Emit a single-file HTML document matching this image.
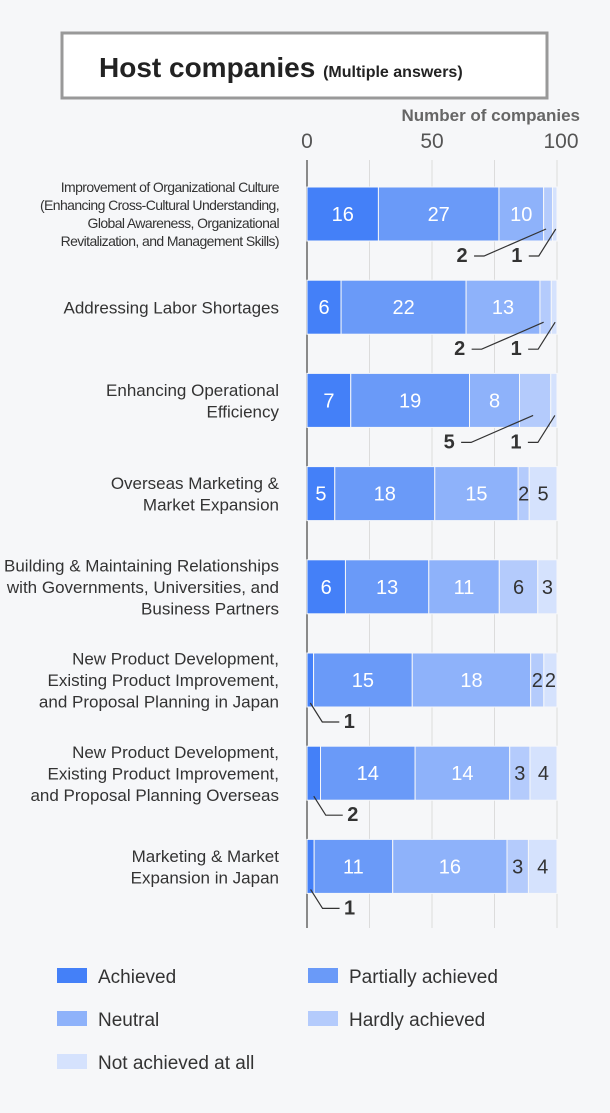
<!DOCTYPE html>
<html><head><meta charset="utf-8"><style>
body{margin:0;background:#f6f7f9;font-family:"Liberation Sans",sans-serif}
svg{display:block}
</style></head><body>
<svg width="610" height="1113" viewBox="0 0 610 1113" id="c">
<rect x="62" y="33" width="485" height="65" fill="#fff" stroke="#999" stroke-width="3"/>
<text x="99" y="77" font-size="28" font-weight="bold" fill="#222">Host companies <tspan font-size="16">(Multiple answers)</tspan></text>
<text x="580" y="121" text-anchor="end" font-size="17" font-weight="bold" fill="#666">Number of companies</text>
<g id="grid"></g><g id="bars"></g><g id="labels"></g><g id="legend"></g>
</svg>
<script>
const categories=[["Improvement of Organizational Culture","(Enhancing Cross-Cultural Understanding,","Global Awareness, Organizational","Revitalization, and Management Skills)"],["Addressing Labor Shortages"],["Enhancing Operational","Efficiency"],["Overseas Marketing &","Market Expansion"],["Building & Maintaining Relationships","with Governments, Universities, and","Business Partners"],["New Product Development,","Existing Product Improvement,","and Proposal Planning in Japan"],["New Product Development,","Existing Product Improvement,","and Proposal Planning Overseas"],["Marketing & Market","Expansion in Japan"]];
const achieved=[16,6,7,5,6,1,2,1];
const partially=[27,22,19,18,13,15,14,11];
const neutral=[10,13,8,15,11,18,14,16];
const hardly=[2,2,5,2,6,2,3,3];
const notAtAll=[1,1,1,5,3,2,4,4];
const tickValues=[0,50,100];
const seriesNames=["Achieved","Partially achieved","Neutral","Hardly achieved","Not achieved at all"];
// callouts: [row, seriesIndex, style]
const callouts=[[0,3,"far"],[0,4,"near"],[1,3,"far"],[1,4,"near"],[2,3,"far"],[2,4,"near"],[5,0,"left"],[6,0,"left"],[7,0,"left"]];

const colors=["#4480f8","#6a9af8","#8eb2fa","#b4cbfc","#d5e2fd"];
const NS="http://www.w3.org/2000/svg";
const X0=307,W=250,rowY0=187,rowStep=93.2,barH=54;
const x=p=>X0+p/100*W;
const rowY=i=>rowY0+i*rowStep;
function mk(tag,attrs,parent,txt){const e=document.createElementNS(NS,tag);for(const k in attrs)e.setAttribute(k,attrs[k]);if(txt!==undefined)e.textContent=txt;parent.appendChild(e);return e;}
const G=document.getElementById('grid'),B=document.getElementById('bars'),L=document.getElementById('labels'),LG=document.getElementById('legend');
[25,50,75,100].forEach(v=>{const l=mk('line',{x1:x(v),x2:x(v),y1:160,y2:928,stroke:"#dcdcdc","stroke-width":1},G);});
tickValues.forEach(v=>{const t=mk('text',{x:x(v)+(v===100?4:0),y:148,"text-anchor":"middle","font-size":21,fill:"#555"},G,v);});
const series=[achieved,partially,neutral,hardly,notAtAll];
const isCall=(r,s)=>callouts.find(c=>c[0]===r&&c[1]===s);
categories.forEach((cat,i)=>{
  const y=rowY(i);
  const total=series.reduce((a,s)=>a+s[i],0);
  let cum=0;
  const first=i===0;
  const fs=first?14:17, lh=first?18:21.5;
  const cy=y+barH/2-(cat.length-1)*lh/2+fs*0.36;
  cat.forEach((ln,k)=>{const t=mk('text',{x:279,y:cy+k*lh,"text-anchor":"end","font-size":fs,fill:"#333","letter-spacing":first?"-0.6":"0"},L,ln);});
  series.forEach((s,si)=>{
    const v=s[i];const p0=cum/total*100;cum+=v;const p1=cum/total*100;
    const r=mk('rect',{x:x(p0),y:y,width:x(p1)-x(p0),height:barH,fill:colors[si],stroke:"#f6f7f9","stroke-width":1},B);
    
    const cx=(x(p0)+x(p1))/2;const c=isCall(i,si);
    if(c){
      let lx,ly=y+barH+21,line;
      if(c[2]==="far"){lx=cx-86;line=`M${cx-2},${y+barH-12} L${lx+22},${ly-6} L${lx+12},${ly-6}`;}
      else if(c[2]==="near"){lx=cx-38;line=`M${cx+1},${y+barH-12} L${lx+22},${ly-6} L${lx+12},${ly-6}`;}
      else{lx=cx+39;line=`M${cx},${y+barH-4} L${cx+12},${ly-6} L${lx-10},${ly-6}`;}
      const pth=mk('path',{d:line,fill:"none",stroke:"#333","stroke-width":1.2},L);
      const t=mk('text',{x:lx,y:ly,"text-anchor":"middle","font-size":20,"font-weight":"bold",fill:"#333"},L,v);
    } else {
      const t=mk('text',{x:cx,y:y+barH/2+7,"text-anchor":"middle","font-size":20,fill:si>=3?"#333":"#fff"},L,v);
    }
  });
});
const ax=mk('line',{x1:X0,x2:X0,y1:160,y2:928,stroke:"#666","stroke-width":1.5},G);
const lpos=[[57,976],[308,976],[57,1019],[308,1019],[57,1062]];
seriesNames.forEach((n,si)=>{const [lx,ly]=lpos[si];
  const g=mk('g',{},LG);
  mk('rect',{x:lx,y:ly-8,width:30,height:15,fill:colors[si]},g);
  mk('text',{x:lx+41,y:ly+7,"font-size":19,fill:"#333"},g,n);
});
</script>
</body></html>
